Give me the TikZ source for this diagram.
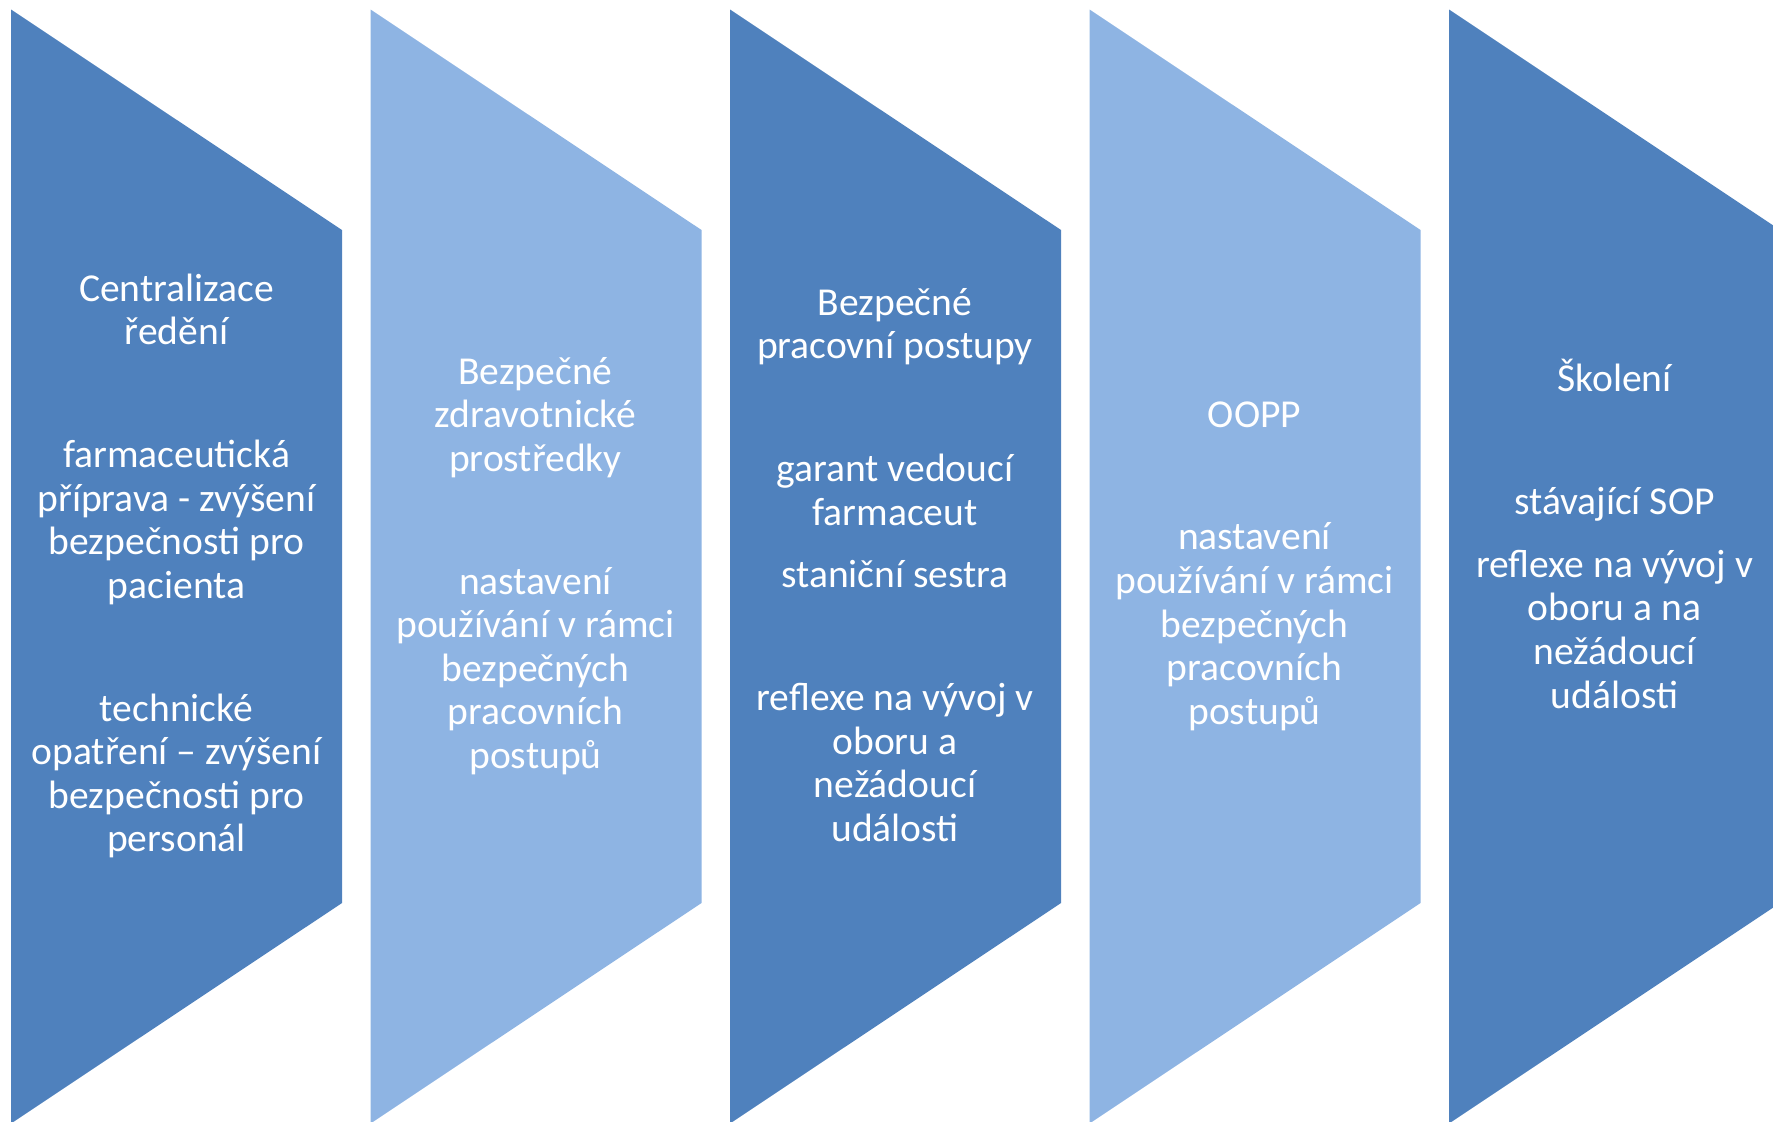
\documentclass[tikz,border=0pt]{standalone}
\usepackage{fontspec}
\setmainfont{Carlito}
\usetikzlibrary{positioning}
\definecolor{darkstep}{HTML}{4F81BD}
\definecolor{lightstep}{HTML}{8EB4E3}

\begin{document}
\begin{tikzpicture}[x=0.01cm,y=-0.01cm]

    \tikzstyle{stepText}=[text=white, font=\fontsize{11.25}{12.4}\selectfont, align=center, inner sep=0pt]

    \def \hspacing {359.5}
    \def \chevw {331}
    \def \bigsep {22.5pt}
    \def \smallsep {5.4pt}

    \useasboundingbox (0,0) rectangle (1773,1121);
    \clip (0,0) rectangle (1773,1121);

    % Chevrons
    \foreach \i/\col in {0/darkstep,1/lightstep,2/darkstep,3/lightstep,4/darkstep} {
        \fill[\col] (11+\i*\hspacing,9.5) -- ++(\chevw,220.5) -- ++(0,673) -- (11+\i*\hspacing,1123.5) -- cycle;
    }

    % Texts
    \node[stepText] (centr) at (176.5,566) {Centralizace\\ředění\\[\bigsep]farmaceutická\\příprava - zvýšení\\bezpečnosti pro\\pacienta\\[\bigsep]technické\\opatření – zvýšení\\bezpečnosti pro\\personál};
    \node[stepText] (zdrav) at (535.5,566) {Bezpečné\\zdravotnické\\prostředky\\[\bigsep]nastavení\\používání v rámci\\bezpečných\\pracovních\\postupů};
    \node[stepText] (postup) at (895,565) {Bezpečné\\pracovní postupy\\[\bigsep]garant vedoucí\\farmaceut\\[\smallsep]staniční sestra\\[\bigsep]reflexe na vývoj v\\oboru a\\nežádoucí\\události};
    \node[stepText] (oopp) at (1254.5,566) {OOPP\\[\bigsep]nastavení\\používání v rámci\\bezpečných\\pracovních\\postupů};
    \node[stepText] (skol) at (1614.5,534) {Školení\\[\bigsep]stávající SOP\\[\smallsep]reflexe na vývoj v\\oboru a na\\nežádoucí\\události};

\end{tikzpicture}
\end{document}
